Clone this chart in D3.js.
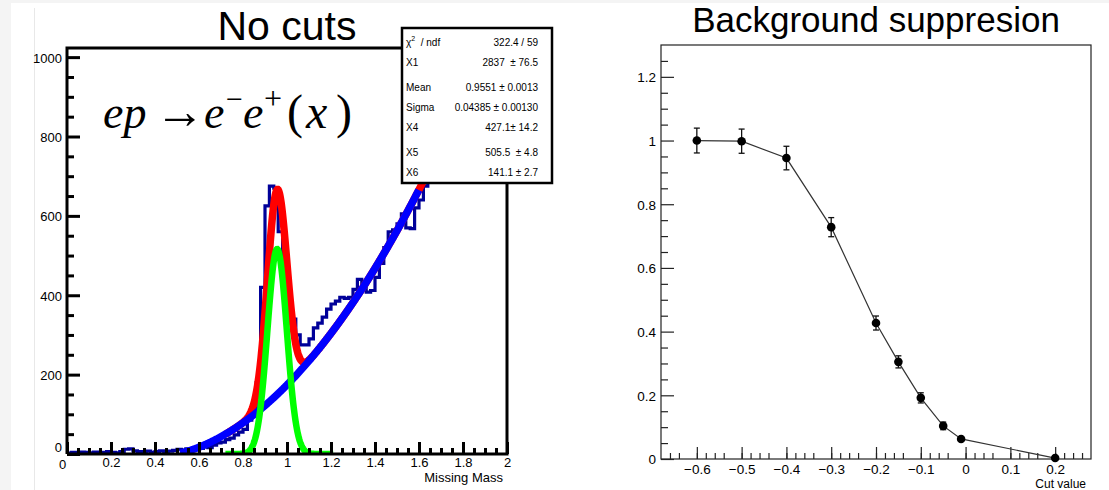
<!DOCTYPE html>
<html><head><meta charset="utf-8">
<script src="https://cdn.jsdelivr.net/npm/d3@7"></script>
<style>
html,body{margin:0;padding:0;background:#f4f4f4;}
svg{display:block;}
text{font-family:"Liberation Sans",Arial,Helvetica,sans-serif;fill:#000;}
.pre{white-space:pre;}
.math{font-family:"Liberation Serif","Times New Roman",serif;}
</style></head><body>
<svg id="chart" width="1109" height="490"></svg>
<script>
// ---- Missing-mass histogram (bin width 0.02, starting at 0) ----
const histStart = 0;
const histBinWidth = 0.02;
const histCounts = [
  2, 4, 3, 5, 4,        3, 5, 2, 4, 6,
  4, 3, 6, 12, 13,      8, 6, 5, 7, 4,
  6, 8, 5, 7, 9,        12, 10, 13, 11, 14,
  14, 18, 16, 22, 28,   30, 36, 40, 48, 55,
  62, 85, 120, 180, 420, 625, 675, 670, 560, 500,
  390, 340, 300, 275, 275, 290, 318, 330, 345, 365,
  378, 385, 395, 392, 395, 415, 440, 425, 408, 412,
  445, 480, 520, 560, 565, 580, 605, 570, 568, 620,
  640, 675, 700
];

// ---- Fit parameters (gaussian peak + threshold background) ----
const fitLabels = ["X1", "Mean", "Sigma", "X4", "X5", "X6"];
const fitValues = [2837, 0.9551, 0.04385, 427.1, 505.5, 141.1];
const fitValueText = ["2837  \u00b1 76.5", "0.9551 \u00b1 0.0013", "0.04385 \u00b1 0.00130",
                      "427.1\u00b1 14.2", "505.5  \u00b1 4.8", "141.1 \u00b1 2.7"];
const chi2Text = "322.4 / 59";

// ---- Background suppression vs cut value ----
const cutValues   = [-0.6, -0.5, -0.4, -0.3, -0.2, -0.15, -0.1, -0.05, -0.01, 0.2];
const suppression = [1.0, 0.998, 0.945, 0.728, 0.427, 0.305, 0.192, 0.104, 0.063, 0.003];
const suppErrors  = [0.039, 0.038, 0.037, 0.030, 0.022, 0.019, 0.016, 0.012, 0.006, 0.003];

const massTicks = [0, 0.2, 0.4, 0.6, 0.8, 1, 1.2, 1.4, 1.6, 1.8, 2];
const countTicks = [0, 200, 400, 600, 800, 1000];
const cutTicks = [-0.6, -0.5, -0.4, -0.3, -0.2, -0.1, 0, 0.1, 0.2];
const suppTicks = [0, 0.2, 0.4, 0.6, 0.8, 1, 1.2];

const svg = d3.select("#chart");

// page background
svg.append("rect").attr("x", 0).attr("y", 0).attr("width", 1109).attr("height", 490).attr("fill", "#f4f4f4");
svg.append("rect").attr("x", 11).attr("y", 3).attr("width", 1098).attr("height", 487).attr("fill", "#fff");
svg.append("line").attr("x1", 34.5).attr("x2", 34.5).attr("y1", 8).attr("y2", 490)
  .attr("stroke", "#e8e8e8").attr("stroke-width", 1);

const numFmt = d => String(+(+d).toFixed(3)).replace("-", "\u2212");

// =================== Left panel ===================
const L = {left: 67, right: 507, top: 48, bottom: 454};
const xL = d3.scaleLinear().domain([0, 2]).range([L.left, L.right]);
const yL = d3.scaleLinear().domain([0, 1023]).range([L.bottom, L.top]);

svg.append("text").attr("x", (L.left + L.right) / 2).attr("y", 40)
  .attr("text-anchor", "middle").attr("font-size", 41).text("No cuts");

const left = svg.append("g");
svg.append("clipPath").attr("id", "clipL").append("rect")
  .attr("x", L.left).attr("y", L.top).attr("width", L.right - L.left).attr("height", L.bottom - L.top);
const plotL = left.append("g").attr("clip-path", "url(#clipL)");

// histogram outline
const histPts = histCounts.map((c, i) => [histStart + i * histBinWidth, c]);
histPts.push([histStart + histCounts.length * histBinWidth, histCounts[histCounts.length - 1]]);
plotL.append("path")
  .attr("d", d3.line().x(d => xL(d[0])).y(d => yL(d[1])).curve(d3.curveStepAfter)(histPts))
  .attr("fill", "none").attr("stroke", "#000099").attr("stroke-width", 3.2);

// fit components
const [amp, mean, sigma, quad, thr, lin] = fitValues;
const gaussPart = x => amp * histBinWidth / (sigma * Math.sqrt(2 * Math.PI)) *
  Math.exp(-0.5 * Math.pow((x - mean) / sigma, 2));
const bgPart = x => { const d = x - thr / 1000; return quad * d * d + lin * d; };
const totalFit = x => gaussPart(x) + bgPart(x);
const curve = (f, a, b) => d3.line().x(x => xL(x)).y(x => yL(f(x)))(d3.range(a, b + 1e-9, 0.002));

plotL.append("path").attr("d", curve(totalFit, 0.72, 1.8))
  .attr("fill", "none").attr("stroke", "#ff0000").attr("stroke-width", 7.5);
plotL.append("path").attr("d", curve(bgPart, 0.515, 1.6))
  .attr("fill", "none").attr("stroke", "#0000ff").attr("stroke-width", 7.5);
plotL.append("path").attr("d", curve(gaussPart, 0.72, 1.21))
  .attr("fill", "none").attr("stroke", "#00ff00").attr("stroke-width", 6.5);

// axes (ticks inside the frame)
const axL = left.append("g");
const yAxisL = axL.append("g").attr("transform", `translate(${L.left},0)`)
  .call(d3.axisLeft(yL).tickValues(countTicks).tickSize(-13).tickPadding(5).tickFormat(d => String(d)));
axL.append("g").attr("transform", `translate(${L.left},0)`)
  .call(d3.axisLeft(yL).tickValues(d3.range(0, 1001, 50).filter(v => v % 200)).tickSize(-7).tickFormat(""));
const xAxisL = axL.append("g").attr("transform", `translate(0,${L.bottom})`)
  .call(d3.axisBottom(xL).tickValues(massTicks).tickSize(-12).tickPadding(4).tickFormat(numFmt));
axL.append("g").attr("transform", `translate(0,${L.bottom})`)
  .call(d3.axisBottom(xL).tickValues(d3.range(0, 2.001, 0.05).filter((v, i) => i % 4)).tickSize(-6).tickFormat(""));
axL.selectAll(".domain").remove();
axL.selectAll(".tick line").attr("stroke", "#000").attr("stroke-width", 3);
axL.selectAll(".tick text").attr("font-size", 13).attr("fill", "#111");
yAxisL.selectAll(".tick text").attr("dy", "0.38em");
xAxisL.selectAll(".tick").filter(d => d === 0).select("text").attr("dx", -5).attr("dy", "0.85em");
yAxisL.selectAll(".tick").filter(d => d === 0).select("text").attr("dy", "-0.2em");

svg.append("text").attr("x", 503).attr("y", 482).attr("text-anchor", "end")
  .attr("font-size", 13).attr("fill", "#222").text("Missing Mass");

// reaction label: one text element, pieces placed along the baseline
const formulaBase = {x: 103, y: 128};
const formulaParts = [
  {t: "ep", dx: 0, size: 46, italic: true},
  {t: "\u2192", dx: 52, size: 50},
  {t: "e", dx: 101, size: 46, italic: true},
  {t: "\u2212", dx: 123, size: 30, rise: 19},
  {t: "e", dx: 140, size: 46, italic: true},
  {t: "+", dx: 161, size: 32, rise: 19},
  {t: "(", dx: 184, size: 48},
  {t: "x", dx: 203, size: 48, italic: true},
  {t: ")", dx: 233, size: 48}
];
const formula = svg.append("text").attr("class", "math");
formulaParts.forEach(p => {
  formula.append("tspan")
    .attr("x", formulaBase.x + p.dx).attr("y", formulaBase.y - (p.rise || 0))
    .attr("font-size", p.size).attr("font-style", p.italic ? "italic" : "normal").text(p.t);
});

// frame
const statBox = {x: 402, y: 28, w: 150, h: 155};
left.append("path")
  .attr("d", `M${L.left},${L.bottom} L${L.left},${L.top} L${statBox.x},${L.top}
              M${L.right},${statBox.y + statBox.h} L${L.right},${L.bottom} L${L.left},${L.bottom}`)
  .attr("fill", "none").attr("stroke", "#000").attr("stroke-width", 3);

// fit statistics box
const box = svg.append("g");
box.append("rect").attr("x", statBox.x).attr("y", statBox.y).attr("width", statBox.w).attr("height", statBox.h)
  .attr("fill", "#fff").attr("stroke", "#000").attr("stroke-width", 2.5);
const rowY = [46, 66, 91, 111, 131, 156, 176];
const chiLabel = box.append("text").attr("x", 406).attr("y", rowY[0]).attr("font-size", 10);
chiLabel.append("tspan").text("\u03c7");
chiLabel.append("tspan").attr("font-size", 7).attr("dy", -5).text("2");
chiLabel.append("tspan").attr("dy", 5).attr("class", "pre").text("  / ndf");
box.append("text").attr("x", 538).attr("y", rowY[0]).attr("text-anchor", "end").attr("font-size", 10).text(chi2Text);
fitLabels.forEach((lab, i) => {
  box.append("text").attr("x", 406).attr("y", rowY[i + 1]).attr("font-size", 10).text(lab);
  box.append("text").attr("class", "pre").attr("x", 538).attr("y", rowY[i + 1])
    .attr("text-anchor", "end").attr("font-size", 10).text(fitValueText[i]);
});

// =================== Right panel ===================
const R = {left: 661, right: 1091, top: 45, bottom: 459};
const xR = d3.scaleLinear().domain([-0.68, 0.28]).range([R.left, R.right]);
const yR = d3.scaleLinear().domain([0, 1.3]).range([R.bottom, R.top]);

svg.append("text").attr("x", (R.left + R.right) / 2).attr("y", 32)
  .attr("text-anchor", "middle").attr("font-size", 35).text("Background suppresion");

const right = svg.append("g");
right.append("rect").attr("x", R.left).attr("y", R.top).attr("width", R.right - R.left).attr("height", R.bottom - R.top)
  .attr("fill", "none").attr("stroke", "#222").attr("stroke-width", 1.2);

const axR = right.append("g");
const yAxisR = axR.append("g").attr("transform", `translate(${R.left},0)`)
  .call(d3.axisLeft(yR).tickValues(suppTicks).tickSize(-13).tickPadding(5).tickFormat(numFmt));
axR.append("g").attr("transform", `translate(${R.left},0)`)
  .call(d3.axisLeft(yR).tickValues(d3.range(0, 26).map(i => i * 0.05).filter((v, i) => i % 4)).tickSize(-7).tickFormat(""));
const xAxisR = axR.append("g").attr("transform", `translate(0,${R.bottom})`)
  .call(d3.axisBottom(xR).tickValues(cutTicks).tickSize(-12).tickPadding(5).tickFormat(numFmt));
axR.append("g").attr("transform", `translate(0,${R.bottom})`)
  .call(d3.axisBottom(xR).tickValues(d3.range(-33, 14).map(i => i * 0.02).filter((v, i) => (i + 33) % 5)).tickSize(-6).tickFormat(""));
axR.selectAll(".domain").remove();
axR.selectAll(".tick line").attr("stroke", "#222").attr("stroke-width", 1.2);
axR.selectAll(".tick text").attr("font-size", 13.5).attr("fill", "#111");
yAxisR.selectAll(".tick text").attr("dy", "0.36em");

svg.append("text").attr("x", 1086).attr("y", 487.5).attr("text-anchor", "end")
  .attr("font-size", 12).attr("fill", "#222").text("Cut value");

const pts = cutValues.map((c, i) => ({x: c, y: suppression[i], e: suppErrors[i]}));
right.append("path")
  .attr("d", d3.line().x(d => xR(d.x)).y(d => yR(d.y))(pts))
  .attr("fill", "none").attr("stroke", "#333").attr("stroke-width", 1.2);
const eb = right.append("g").attr("stroke", "#111").attr("stroke-width", 1.3);
pts.forEach(p => {
  eb.append("line").attr("x1", xR(p.x)).attr("x2", xR(p.x)).attr("y1", yR(p.y - p.e)).attr("y2", yR(p.y + p.e));
  [p.y - p.e, p.y + p.e].forEach(v => eb.append("line")
    .attr("x1", xR(p.x) - 3).attr("x2", xR(p.x) + 3).attr("y1", yR(v)).attr("y2", yR(v)));
});
right.append("g").selectAll("circle").data(pts).join("circle")
  .attr("cx", d => xR(d.x)).attr("cy", d => yR(d.y)).attr("r", 4.3).attr("fill", "#000");
</script>
</body></html>
